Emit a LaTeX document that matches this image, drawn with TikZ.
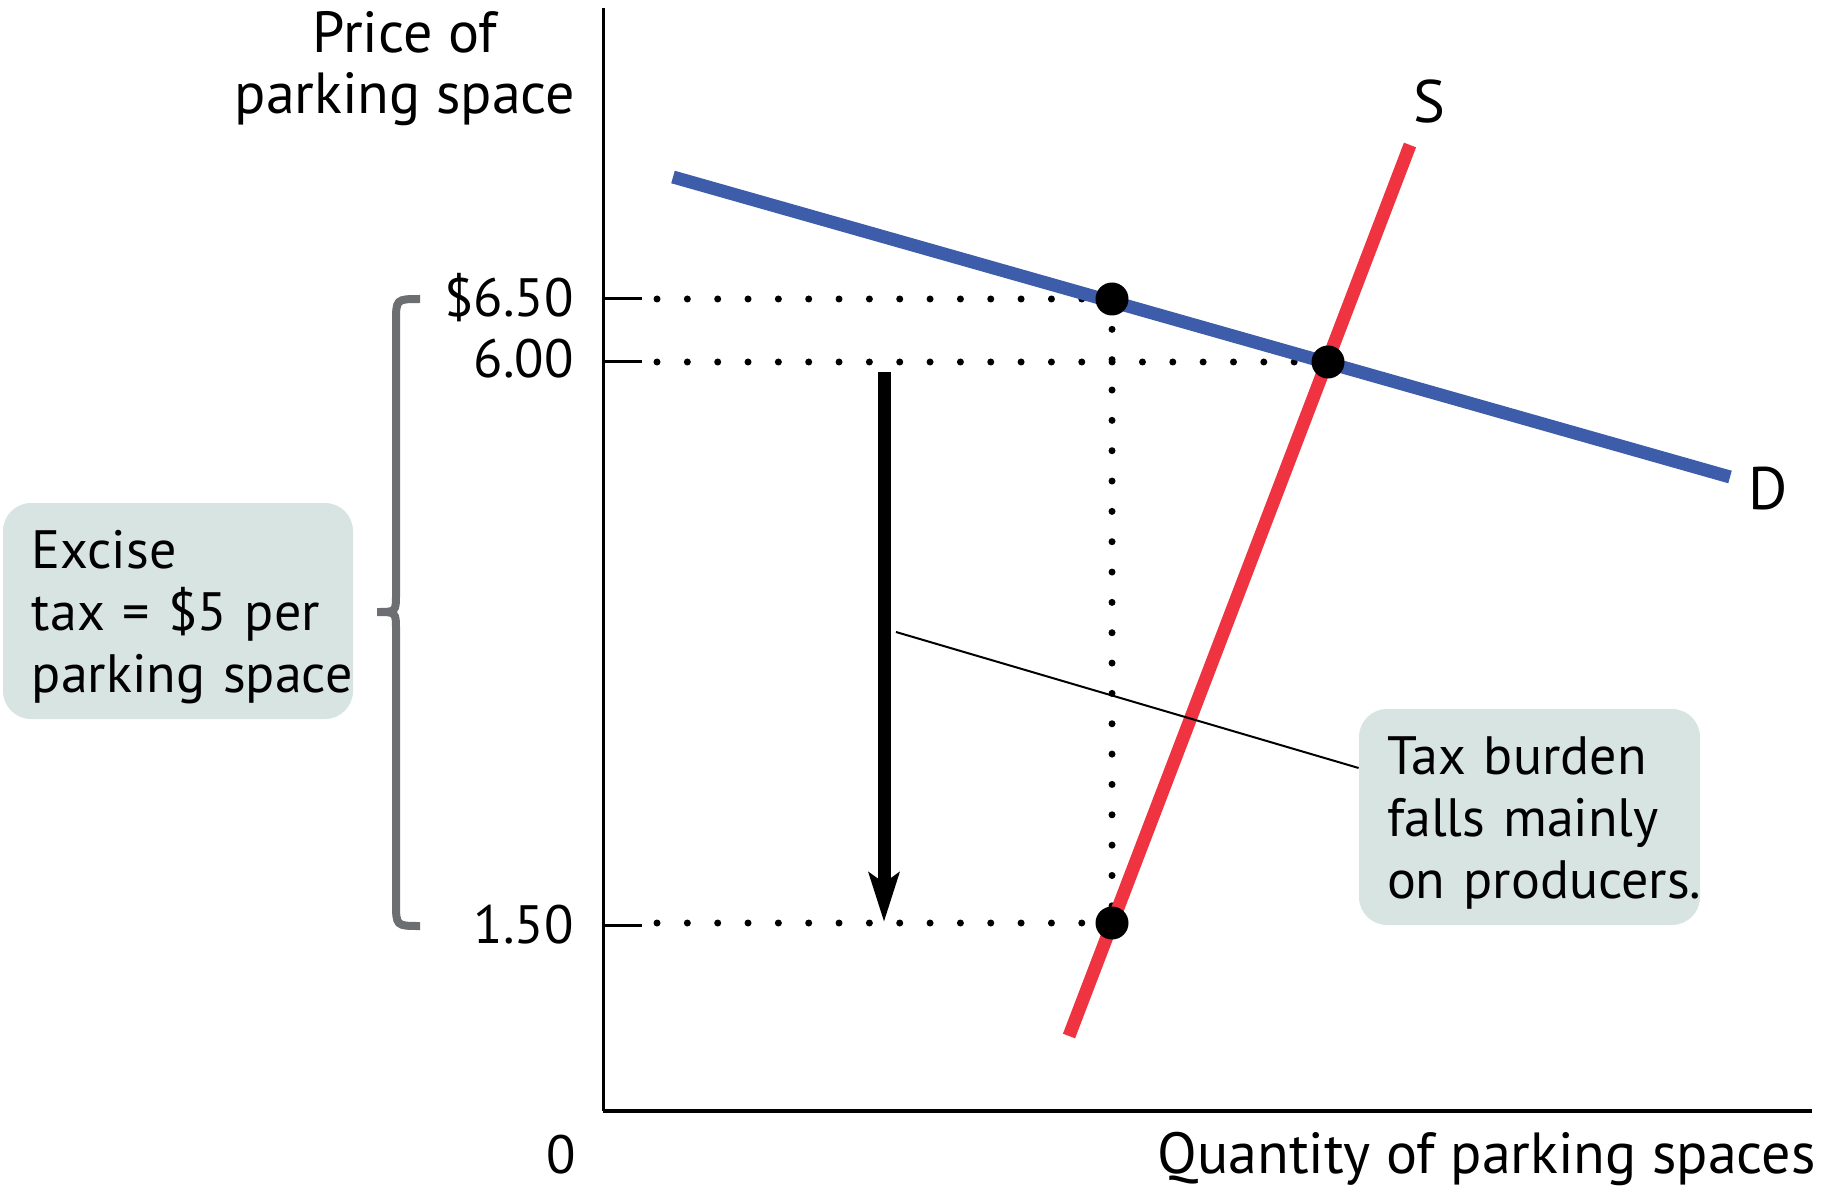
\documentclass[tikz,border=0pt]{standalone}
\usepackage{fontspec}
\setmainfont{PT Sans}
\usetikzlibrary{arrows.meta}
\definecolor{demandblue}{RGB}{61,93,171}
\definecolor{supplyred}{RGB}{239,51,65}
\definecolor{bracegray}{RGB}{109,110,113}
\definecolor{boxfill}{RGB}{215,228,225}

\begin{document}
\begin{tikzpicture}[x=0.5pt, y=-0.5pt,
  axis/.style={line width=1.5pt},
  dotline/.style={line width=3.5pt, line cap=round, dash pattern=on 0pt off 15.17pt},
  bigdot/.style={circle, fill=black, inner sep=0pt, minimum size=16.5pt},
  curve/.style={line width=6.5pt},
  lbl/.style={font=\fontsize{27}{31}\selectfont, inner sep=0pt},
  axlbl/.style={font=\fontsize{29}{30.5}\selectfont, inner sep=0pt},
  taxbox/.style={rounded corners=14pt, fill=boxfill, align=left, inner ysep=0pt,
    minimum height=108pt, font=\fontsize{27}{31}\selectfont}]
\useasboundingbox (0,0) rectangle (1824,1192);

% axes
\coordinate (O) at (603,1111);
\draw[axis] (603,8) -- (O);
\draw[axis, line width=2pt] (O) -- (1812,1111);
\node[axlbl, align=center] (ylab) at (405,69) {Price of\\parking space};
\node[axlbl, anchor=base east] (xlab) at (1816,1173) {Quantity of parking spaces};
\node[lbl, anchor=base] (zero) at (561,1173) {0};

% price ticks
\coordinate (t650) at (642,299);
\coordinate (t600) at (642,362);
\coordinate (t150) at (642,925);
\draw[axis] (603,299) -- (t650);
\draw[axis] (603,362) -- (t600);
\draw[axis] (603,925) -- (t150);
\node[lbl, anchor=base east] (p650) at (574,317) {\$6.50};
\node[lbl, anchor=base east] (p600) at (574,378) {6.00};
\node[lbl, anchor=base east] (p150) at (574,943) {1.50};

% points
\coordinate (buy) at (1112,299);
\coordinate (eq) at (1328,362);
\coordinate (sell) at (1112,923);
\draw[dotline] (657,299) -- (buy);
\draw[dotline] (657,362) -- (eq);
\draw[dotline] (657,923) -- (sell);
\draw[dotline] (buy) -- (sell);

% demand and supply
\draw[curve, demandblue] (673,177) -- (1730,477);
\draw[curve, supplyred] (1069,1036) -- (1410,145);
\node[lbl, font=\fontsize{30}{36}\selectfont, anchor=base west] (D) at (1748,509) {D};
\node[lbl, font=\fontsize{30}{36}\selectfont, anchor=base] (S) at (1429,123) {S};

\node[bigdot] (dbuy) at (buy) {};
\node[bigdot] (deq) at (eq) {};
\node[bigdot] (dsell) at (sell) {};

% tax wedge
\coordinate (atop) at (884,372);
\coordinate (atip) at (884,922);
\draw[line width=6.5pt, -{Stealth[length=24.5pt, width=15pt, inset=5pt]}] (atop) -- (atip);
\draw[bracegray, line width=4pt] (420,299) .. controls (396,299) .. (396,323) -- (396,594)
  .. controls (396,612) .. (377,612) .. controls (396,612) .. (396,630) -- (396,902)
  .. controls (396,926) .. (420,926);

\node[taxbox, text width=146pt, inner xsep=14.5pt] (excise) at (178,611)
  {\vrule height 25pt width 0pt Excise\\\mbox{tax = \$5 per}\\\mbox{parking space}};
\node[taxbox, text width=142.5pt, inner xsep=14pt] (burden) at (1529.5,817)
  {\vrule height 25pt width 0pt Tax burden\\\mbox{falls mainly}\\\mbox{on producers.}};
\coordinate (lead) at (896,632);
\draw[line width=1pt] (lead) -- (burden.164);
\end{tikzpicture}
\end{document}
